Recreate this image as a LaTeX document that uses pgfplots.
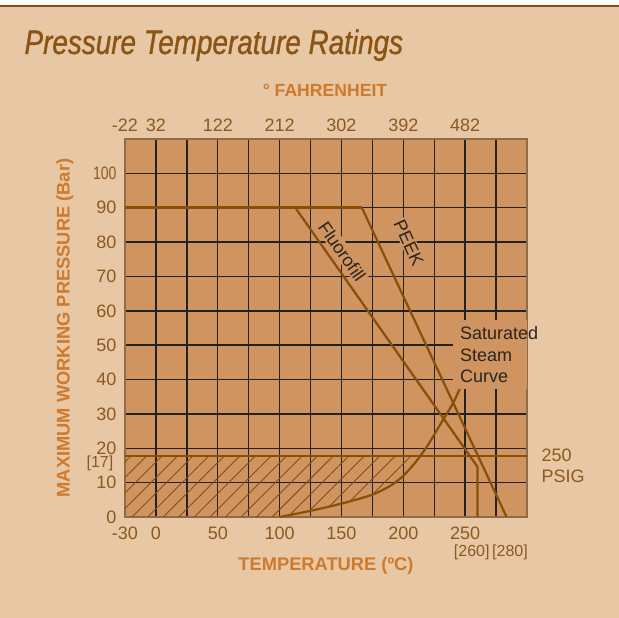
\documentclass[border=0pt]{standalone}
\usepackage{graphicx}
\usepackage{pgfplots}
\pgfplotsset{compat=1.18}
\usetikzlibrary{patterns.meta}
\usepackage{fontspec}
\setmainfont{Liberation Sans}
\newfontfamily\titlefont[FakeStretch=0.82, FakeBold=0.9]{Liberation Sans}

\definecolor{pagebg}{HTML}{E8C7A5}
\definecolor{plotbg}{HTML}{CF945F}
\definecolor{lineb}{HTML}{8A4E08}
\definecolor{gridc}{HTML}{222222}
\definecolor{borderc}{HTML}{8E6C4A}
\definecolor{titlec}{HTML}{8A5514}
\definecolor{labelc}{HTML}{CE7A2C}
\definecolor{tickc}{HTML}{8A5A1E}
\definecolor{notec}{HTML}{2B2520}

\newcommand\fsz[2]{\fontsize{#1bp}{#2bp}\selectfont}

\begin{document}
\begin{tikzpicture}
\path[use as bounding box] (0,0) rectangle (619bp,618bp);
\fill[pagebg] (0,0) rectangle (619bp,618bp);
\fill[white] (0,612bp) rectangle (619bp,618bp);
\draw[lineb, line width=2bp] (0,612bp) -- (619bp,612bp);

\begin{axis}[
  at={(125bp,101bp)}, anchor=south west,
  scale only axis, width=402bp, height=378bp,
  xmin=-25, xmax=300, ymin=0, ymax=110,
  xtick={0,50,100,150,200,250},
  xticklabels={0,50,100,150,200,250},
  minor xtick={25,75,125,175,225,275},
  ytick={10,20,...,100},
  yticklabels={10,20,30,40,50,60,70,80,90,{\scalebox{0.78}[1]{100}}},
  extra x ticks={-25}, extra x tick labels={-30},
  extra y ticks={0}, extra y tick labels={0},
  extra tick style={grid=none},
  grid=both,
  major grid style={draw=gridc, line width=1.4bp},
  minor grid style={draw=gridc, line width=1.4bp},
  tick style={draw=none},
  axis background/.style={fill=plotbg},
  axis line style={draw=borderc, line width=2bp},
  ticklabel style={font=\fsz{18}{20}, text=tickc},
  xticklabel style={yshift=-6bp},
  yticklabel style={xshift=-5bp},
  xlabel={TEMPERATURE (ºC)},
  xlabel style={at={(axis description cs:0.5,-0.1296)}, anchor=center,
    font=\bfseries\fsz{18.3}{20}, text=labelc},
  ylabel={MAXIMUM WORKING PRESSURE (Bar)},
  ylabel style={at={(axis description cs:-0.1493,0.5)}, anchor=center,
    font=\bfseries\fsz{18.3}{20}, text=labelc},
  clip=false,
]
% hatched zone below 250 psig and above the steam curve
\addplot[draw=none, pattern={Lines[angle=45,distance=11bp,line width=0.9bp]},
  pattern color=lineb] coordinates {
  (-25,0) (100,0) (125,1.8) (150,3.9) (175,6.5) (190,9.2) (200,12)
  (210,16) (213.6,17.8) (-25,17.8)} -- cycle;

\addplot[lineb, line width=2.6bp] coordinates {(-25,90) (166.5,90)};
\addplot[lineb, line width=2.6bp] coordinates {(-25,17.8) (300,17.8)};
% Fluorofill
\addplot[lineb, line width=2.2bp] coordinates {(112.7,90) (260,14.6) (260,0)};
% PEEK
\addplot[lineb, line width=2.2bp] coordinates {(166.5,90) (283.5,0)};
% saturated steam
\addplot[lineb, line width=2.2bp, smooth] coordinates {
  (100,0) (125,1.8) (150,3.9) (175,6.5) (190,9.2) (200,12) (210,16)
  (220,21) (230,27) (240,33) (246.5,38)};

\node[rotate=-55, fill=plotbg, inner sep=1.5bp, font=\fsz{18}{20}, text=notec]
  at (axis cs:150.5,77.3) {Fluorofill};
\node[rotate=-65.5, fill=plotbg, inner sep=1.5bp, font=\fsz{18}{20}, text=notec]
  at (axis cs:204.4,79.7) {PEEK};
\fill[plotbg] (axis cs:240.5,37.2) rectangle (axis cs:300,57.2);
\end{axis}

\begin{axis}[
  at={(125bp,101bp)}, anchor=south west,
  scale only axis, width=402bp, height=378bp,
  xmin=-25, xmax=300, ymin=0, ymax=110,
  axis x line*=top, axis y line=none,
  axis line style={draw=none}, tick style={draw=none},
  xtick={-25,0,50,100,150,200,250},
  xticklabels={-22,32,122,212,302,392,482},
  ticklabel style={font=\fsz{18}{20}, text=tickc},
  xticklabel style={yshift=4bp},
]
\end{axis}

\node[anchor=base west, font=\titlefont\itshape\fsz{34}{38}, text=titlec]
  at (21bp,564bp) {Pressure Temperature Ratings};
\node[font=\bfseries\fsz{17.6}{20}, text=labelc] at (325bp,528bp) {° FAHRENHEIT};
\node[anchor=west, align=left, font=\fsz{18}{21.5}, text=notec, inner sep=0]
  at (460bp,263bp) {Saturated\\Steam\\Curve};
\node[anchor=west, align=left, font=\fsz{18}{21}, text=tickc, inner sep=0]
  at (541.5bp,152.5bp) {250\\PSIG};
\node[font=\fsz{16}{18}, text=tickc] at (471.7bp,66bp) {[260]};
\node[font=\fsz{16}{18}, text=tickc] at (510bp,66bp) {[280]};
\node[anchor=east, font=\fsz{16}{18}, text=tickc, inner sep=0]
  at (113.5bp,154.7bp) {[17]};
\end{tikzpicture}
\end{document}
